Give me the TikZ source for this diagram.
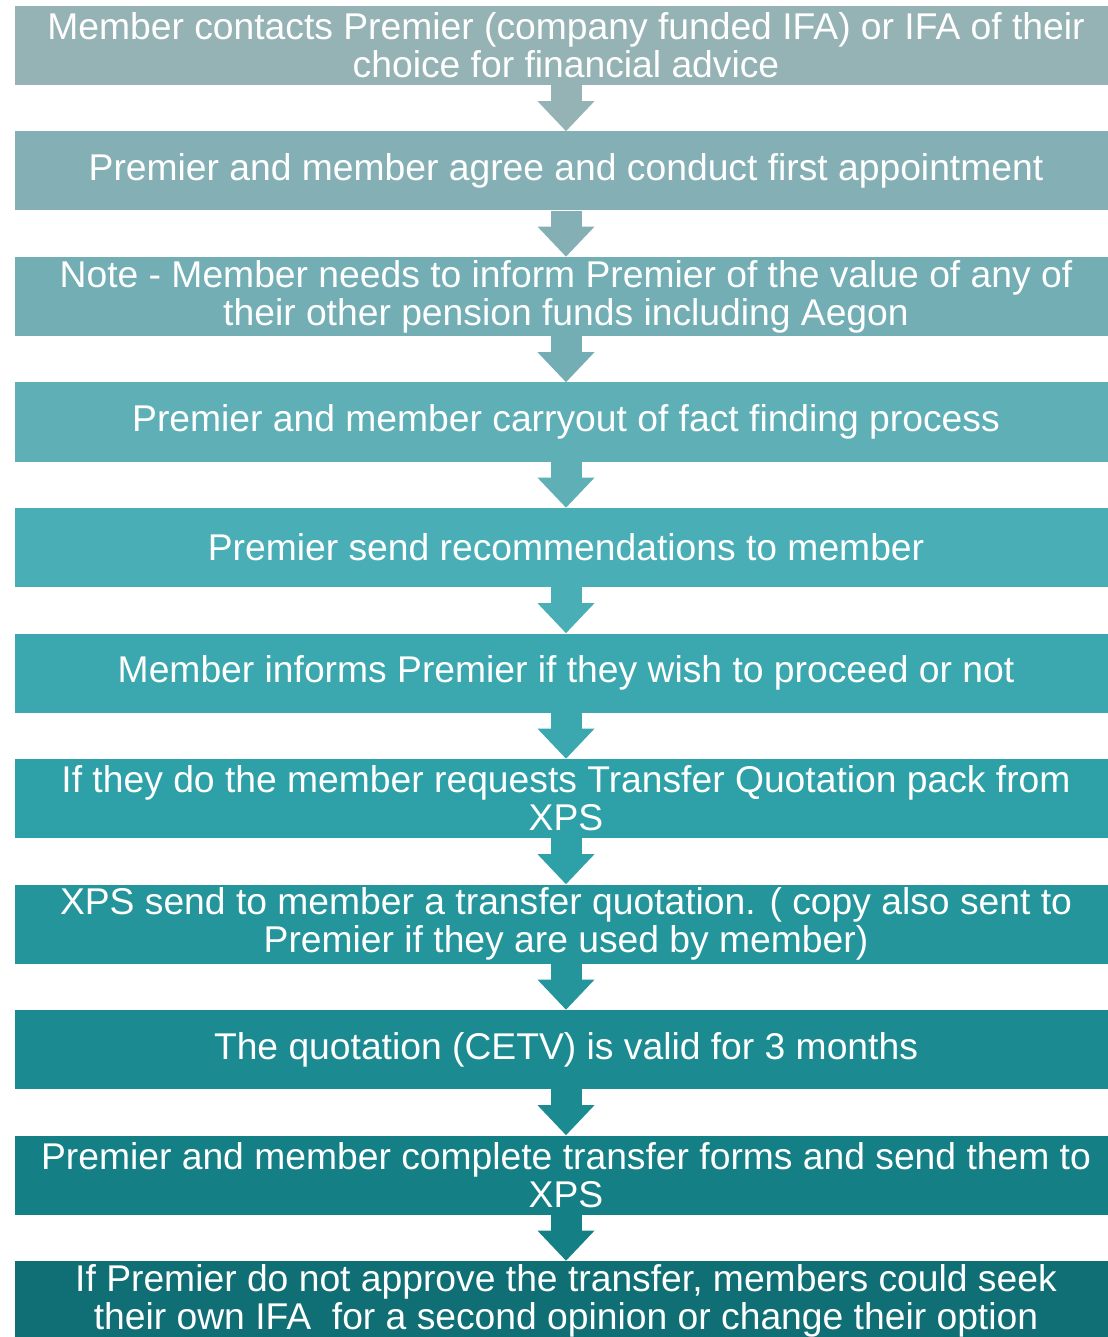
\documentclass[tikz,border=0pt]{standalone}
\usepackage{fontspec}
\setmainfont{Liberation Sans}
\usetikzlibrary{arrows.meta}

% teal shades, light at the top to dark at the bottom
\definecolor{stepA}{HTML}{95B3B4}
\definecolor{stepB}{HTML}{84B0B5}
\definecolor{stepC}{HTML}{72AEB4}
\definecolor{stepD}{HTML}{5FAFB6}
\definecolor{stepE}{HTML}{4AAEB6}
\definecolor{stepF}{HTML}{3BA7AE}
\definecolor{stepG}{HTML}{2EA0A7}
\definecolor{stepH}{HTML}{24959B}
\definecolor{stepI}{HTML}{1B8B91}
\definecolor{stepJ}{HTML}{147F85}
\definecolor{stepK}{HTML}{106F74}

\begin{document}
\begin{tikzpicture}[
    stage/.style={rectangle, minimum width=22.04cm, minimum height=1.58cm, inner sep=0pt,
      align=center, text=white, font=\fontsize{21.2}{21.6}\selectfont},
    flow/.style={line width=0.62cm, -{Triangle[width=1.14cm, length=0.6cm, line width=0pt]}}
  ]
    \useasboundingbox (0,0) rectangle (22.14,-26.74);
    \node[stage, fill=stepA] (S1) at (11.32,-0.91) {Member contacts Premier (company funded IFA) or IFA of their\\ choice for financial advice};
    \node[stage, fill=stepB] (S2) at (11.32,-3.42) {Premier and member agree and conduct first appointment};
    \node[stage, fill=stepC] (S3) at (11.32,-5.93) {Note - Member needs to inform Premier of the value of any of\\ their other pension funds including Aegon};
    \node[stage, fill=stepD] (S4) at (11.32,-8.44) {Premier and member carryout of fact finding process};
    \node[stage, fill=stepE] (S5) at (11.32,-10.95) {Premier send recommendations to member};
    \node[stage, fill=stepF] (S6) at (11.32,-13.46) {Member informs Premier if they wish to proceed or not};
    \node[stage, fill=stepG] (S7) at (11.32,-15.97) {If they do the member requests Transfer Quotation pack from\\ XPS};
    \node[stage, fill=stepH] (S8) at (11.32,-18.48) {XPS send to member a transfer quotation. ( copy also sent to\\ Premier if they are used by member)};
    \node[stage, fill=stepI] (S9) at (11.32,-20.99) {The quotation (CETV) is valid for 3 months};
    \node[stage, fill=stepJ] (S10) at (11.32,-23.50) {Premier and member complete transfer forms and send them to\\ XPS};
    \node[stage, fill=stepK] (S11) at (11.32,-26.01) {If Premier do not approve the transfer, members could seek\\ their own IFA~ for a second opinion or change their option};
    \draw[flow, stepA] (S1) -- (S2);
    \draw[flow, stepB] (S2) -- (S3);
    \draw[flow, stepC] (S3) -- (S4);
    \draw[flow, stepD] (S4) -- (S5);
    \draw[flow, stepE] (S5) -- (S6);
    \draw[flow, stepF] (S6) -- (S7);
    \draw[flow, stepG] (S7) -- (S8);
    \draw[flow, stepH] (S8) -- (S9);
    \draw[flow, stepI] (S9) -- (S10);
    \draw[flow, stepJ] (S10) -- (S11);
  \end{tikzpicture}
\end{document}
